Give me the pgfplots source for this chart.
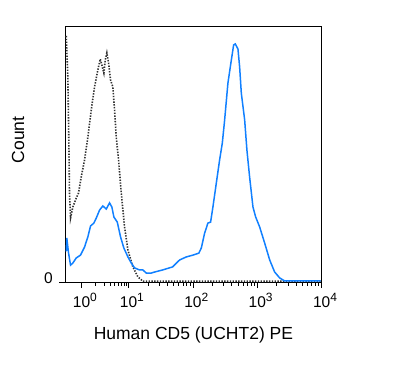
\documentclass[border=0pt]{standalone}
\usepackage{pgfplots}
\pgfplotsset{compat=1.18}
\usepackage{fontspec}
\setmainfont{Liberation Sans}
\definecolor{cdblue}{RGB}{17,128,255}
\definecolor{isogray}{RGB}{50,50,50}
\newcommand{\dec}[1]{10\rlap{\raisebox{6pt}{\fontsize{12}{13}\selectfont #1}}}
\begin{document}
\begin{tikzpicture}
\begin{axis}[
  scale only axis,
  width=256.5pt, height=256pt,
  xmin=0.015, xmax=4, ymin=0, ymax=100,
  axis line style={line width=0.9pt},
  tick align=outside,
  xtick pos=bottom, ytick pos=left,
  xtick={0.27,1,2,3,4},
  xticklabels={\dec{0},\dec{1},\dec{2},\dec{3},\dec{4}},
  minor xtick={0.49,0.618,0.709,0.78,0.838,0.887,0.929,0.966,
    1.301,1.477,1.602,1.699,1.778,1.845,1.903,1.954,
    2.301,2.477,2.602,2.699,2.778,2.845,2.903,2.954,
    3.301,3.477,3.602,3.699,3.778,3.845,3.903,3.954},
  major tick length=6pt, minor tick length=3.5pt,
  tick style={black, line width=0.7pt},
  ytick={0}, yticklabels={0},
  ticklabel style={font=\fontsize{15.5}{17}\selectfont},
  yticklabel style={xshift=-3pt, yshift=3.5pt},
  xticklabel style={anchor=base, yshift=-19pt},
  xlabel={Human CD5 (UCHT2) PE},
  ylabel={Count},
  label style={font=\fontsize{17.5}{20}\selectfont},
  xlabel style={at={(axis description cs:0.5,0)}, anchor=base, yshift=-57pt},
  ylabel style={at={(axis description cs:-0.16,0.555)}, anchor=base, rotate=0},
]
\addplot[isogray, line width=1.6pt, dash pattern=on 1.4pt off 1.4pt] coordinates {
(0.031,96.1) (0.056,80.2) (0.072,54.3) (0.082,34.8) (0.098,25.0) (0.134,29.3)
(0.187,32.8) (0.222,34.8) (0.264,41.0) (0.316,47.7) (0.367,56.6) (0.420,67.2)
(0.471,76.2) (0.522,82.8) (0.560,87.1) (0.584,84.8) (0.616,81.6) (0.637,86.7)
(0.662,89.5) (0.689,85.5) (0.720,78.9) (0.755,76.2) (0.782,67.2) (0.808,56.6)
(0.844,47.7) (0.886,34.8) (0.937,21.5) (0.989,12.5) (1.066,5.9) (1.144,2.0)
(1.222,0.3) (2.5,0.3) (3.984,0.3)
};
\addplot[cdblue, line width=1.5pt] coordinates {
(0.031,12.0) (0.040,17.2) (0.067,11.3) (0.098,6.6) (0.134,7.4) (0.187,9.4)
(0.253,10.5) (0.316,13.7) (0.367,17.6) (0.409,21.9) (0.460,23.0) (0.498,25.0)
(0.549,28.1) (0.600,29.7) (0.653,28.5) (0.704,30.9) (0.740,29.3) (0.771,25.4)
(0.824,23.4) (0.875,17.6) (0.926,13.3) (0.989,9.8) (1.042,7.4) (1.093,5.5)
(1.171,4.7) (1.222,4.7) (1.275,3.5) (1.352,3.5) (1.404,3.9) (1.528,4.7)
(1.683,5.9) (1.792,8.6) (1.897,9.8) (1.999,10.5) (2.092,11.3) (2.130,13.3)
(2.181,19.1) (2.232,23.0) (2.274,23.4) (2.310,29.3) (2.363,38.7) (2.414,47.7)
(2.456,54.3) (2.492,63.3) (2.543,77.7) (2.596,86.7) (2.632,92.6) (2.658,93.0)
(2.699,91.0) (2.725,84.0) (2.751,73.8) (2.803,63.3) (2.838,51.6) (2.880,41.0)
(2.932,29.3) (2.974,25.4) (3.036,21.5) (3.114,15.2) (3.192,8.6) (3.269,3.9)
(3.347,1.6) (3.425,0.4) (3.7,0.4) (3.984,0.4)
};
\end{axis}
\path ([xshift=-65.2pt,yshift=-101pt]current axis.south west) rectangle ([xshift=73.3pt,yshift=26pt]current axis.north east);
\end{tikzpicture}
\end{document}
